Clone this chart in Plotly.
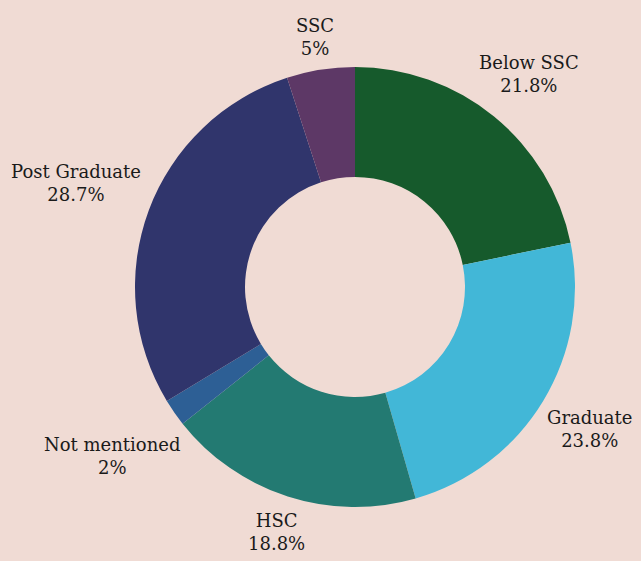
import math
import plotly.graph_objects as go

labels = ['Below SSC', 'Graduate', 'HSC', 'Not mentioned', 'Post Graduate', 'SSC']
values = [21.8, 23.8, 18.8, 2, 28.7, 5]
colors = ['#165a2c', '#42b7d7', '#237a72', '#2d5f95', '#30356c', '#5d3866']

BG = '#f0dbd4'
FONT = 'DejaVu Serif'
FONT_SIZE = 18
RADIUS = 220  # px, outer radius of the donut for label placement

fig = go.Figure(go.Pie(
    labels=labels,
    values=values,
    hole=0.5,
    sort=False,
    direction='clockwise',
    rotation=0,
    marker=dict(colors=colors, line=dict(color=BG, width=0)),
    textinfo='none',
    showlegend=False,
    hoverinfo='label+value',
))

# labels sit on each slice's middle ray, pushed out until the text box clears the ring
total = sum(values)
cum = 0
for lab, val in zip(labels, values):
    ang = math.radians((cum + val / 2) / total * 360)
    cum += val
    text = f'{lab}<br>{val:g}%'
    half_w = max(len(lab), len(f'{val:g}%')) * 10.4 / 2
    half_h = 25
    dx, dy = math.sin(ang), math.cos(ang)
    dist = RADIUS + 6 + half_w * abs(dx) + half_h * abs(dy)
    fig.add_annotation(
        x=0.5, y=0.5, xref='paper', yref='paper',
        text=text, showarrow=False,
        xanchor='center', yanchor='middle',
        xshift=dist * dx, yshift=dist * dy,
        font=dict(family=FONT, size=FONT_SIZE, color='#1a1a1a'),
    )

fig.update_layout(
    width=641, height=561,
    paper_bgcolor=BG, plot_bgcolor=BG,
    margin=dict(l=80, r=11, t=67, b=54),
    font=dict(family=FONT),
)

# drop the default page margin so the figure sits at 0,0
fig.write_html('out.html', config={'displayModeBar': False},
               post_script="document.body.style.margin='0';")
